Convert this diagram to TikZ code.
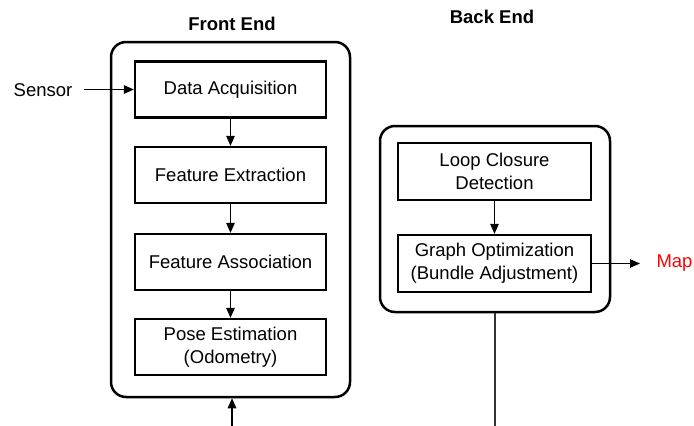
\documentclass[tikz,border=0pt]{standalone}
\usepackage{fontspec}
\setmainfont{Liberation Sans}
\usetikzlibrary{arrows.meta}
\usetikzlibrary{positioning}

\begin{document}
\begin{tikzpicture}[x=1pt,y=-1pt,
font=\fontsize{18.5}{23}\selectfont,
stage/.style={draw,line width=2.3pt,minimum width=191pt,minimum height=56pt,
  align=center,inner sep=2pt},
module/.style={draw,line width=2.5pt,rounded corners=15pt,inner sep=0pt},
title/.style={font=\fontsize{18.5}{23}\selectfont\bfseries},
flow/.style={line width=1.1pt,-{Triangle[length=10pt,width=8.5pt]}}
]
\useasboundingbox (0,0) rectangle (694,426);
% outer blocks
\node[module,minimum width=239pt,minimum height=355pt] (front) at (230.5,219.5) {};
\node[module,minimum width=230pt,minimum height=186pt] (back) at (495,219) {};
\node[title] (fronttitle) at (232,24) {Front End};
\node[title] (backtitle) at (492,17) {Back End};
% front end stages
\node[stage] (acq) at (230.5,89.5) {Data Acquisition};
\node[stage] (extr) at (230.5,175) {Feature Extraction};
\node[stage] (assoc) at (230.5,262) {Feature Association};
\node[stage] (pose) at (230.5,347) {Pose Estimation\\(Odometry)};
% back end stages
\node[stage,minimum width=193pt,minimum height=57pt] (loop) at (494.5,171.5) {Loop Closure\\Detection};
\node[stage,minimum width=193pt,minimum height=57pt] (graph) at (494.5,263.5) {Graph Optimization\\(Bundle Adjustment)};
% inputs and outputs
\node (sensor) at (43,90) {Sensor};
\node[text=red,anchor=west] (map) at (653,263.5) {Map};
\coordinate (sensorend) at (84,89.5);
\coordinate (mapend) at (640,263.5);
\coordinate (frontin) at (232,426);
\coordinate (backout) at (495,426);
\draw[flow] (sensorend) -- (acq);
\draw[flow] (acq) -- (extr);
\draw[flow] (extr) -- (assoc);
\draw[flow] (assoc) -- (pose);
\draw[flow] (loop) -- (graph);
\draw[flow] (graph) -- (mapend);
\draw[flow] (frontin) -- (frontin |- front.south);
\draw[line width=1.1pt,black!80] (backout |- back.south) -- (backout);
\end{tikzpicture}
\end{document}
